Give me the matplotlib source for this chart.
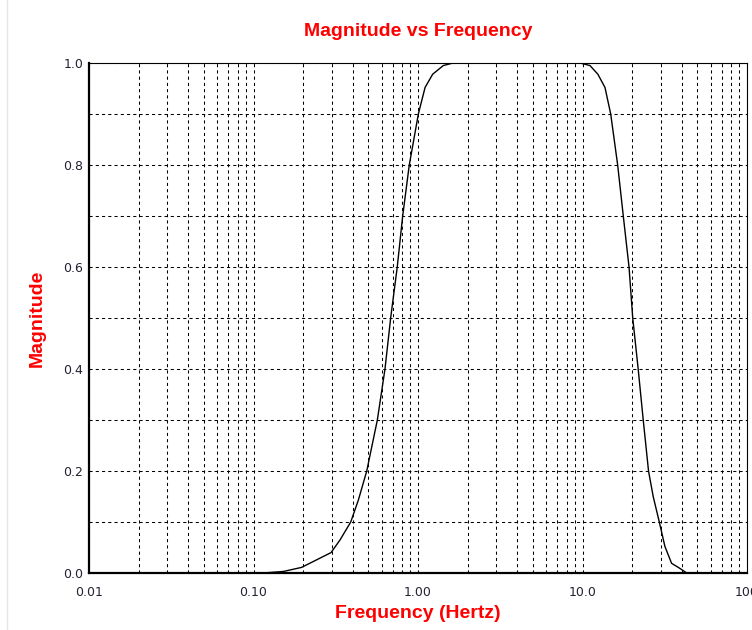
import numpy as np
import matplotlib.pyplot as plt
from matplotlib.ticker import FixedLocator, FixedFormatter, NullFormatter

# values
freq_hz = [0.01, 0.095, 0.114, 0.152, 0.196, 0.296, 0.336, 0.390, 0.434, 0.488,
           0.566, 0.630, 0.682, 0.748, 0.807, 0.885, 1.005, 1.104, 1.228,
           1.425, 1.632,
           9.66, 11.1, 12.4, 13.7, 14.84, 16.36, 17.70, 19.18, 20.2, 21.8,
           23.4, 25.2, 26.9, 29.3, 31.7, 34.8, 39.1, 43.0, 100.0]
magnitude = [0.0, 0.0, 0.0, 0.003, 0.011, 0.040, 0.065, 0.10, 0.143, 0.20,
             0.30, 0.40, 0.50, 0.60, 0.70, 0.80, 0.90, 0.952, 0.978,
             0.995, 1.0,
             1.0, 0.995, 0.978, 0.952, 0.90, 0.80, 0.70, 0.60, 0.50, 0.40,
             0.30, 0.20, 0.15, 0.10, 0.052, 0.019, 0.009, 0.0, 0.0]

x_ticks = [0.01, 0.1, 1.0, 10.0, 100.0]
x_tick_labels = ["0.01", "0.10", "1.00", "10.0", "100"]
y_ticks = [0.0, 0.2, 0.4, 0.6, 0.8, 1.0]
y_tick_labels = ["0.0", "0.2", "0.4", "0.6", "0.8", "1.0"]

red = "#ff0000"
dash = (0, (3, 3))

fig = plt.figure(figsize=(7.52, 6.30), dpi=100)
ax = fig.add_axes([89 / 752, 1 - 573 / 630, 658 / 752, 510 / 630])

ax.plot(freq_hz, magnitude, color="black", lw=1.0, zorder=3)

ax.set_xscale("log")
ax.set_xlim(0.01, 100)
ax.set_ylim(0, 1)

ax.xaxis.set_major_locator(FixedLocator(x_ticks))
ax.xaxis.set_major_formatter(FixedFormatter(x_tick_labels))
minor_x = [m * d for d in [0.01, 0.1, 1, 10] for m in range(2, 10)]
ax.xaxis.set_minor_locator(FixedLocator(minor_x))
ax.xaxis.set_minor_formatter(NullFormatter())
ax.yaxis.set_major_locator(FixedLocator(y_ticks))
ax.yaxis.set_major_formatter(FixedFormatter(y_tick_labels))
ax.yaxis.set_minor_locator(FixedLocator([0.1, 0.3, 0.5, 0.7, 0.9]))

ax.grid(True, which="both", color="black", lw=0.75, linestyle=dash)
ax.tick_params(which="both", length=0, labelsize=9, colors="#222233")
ax.tick_params(axis="x", pad=9)
ax.tick_params(axis="y", pad=4)

for side in ["top", "right"]:
    ax.spines[side].set_linewidth(0.8)
for side in ["left", "bottom"]:
    ax.spines[side].set_linewidth(1.6)

font = {"family": "Liberation Sans", "weight": "bold", "color": red, "fontsize": 14}
fig.text(418 / 752, 1 - 31 / 630, "Magnitude vs Frequency", ha="center", va="center", **font)
fig.text(418 / 752, 1 - 613 / 630, "Frequency (Hertz)", ha="center", va="center", **font)
fig.text(37 / 752, 1 - 318 / 630, "Magnitude", ha="center", va="center", rotation=90, **font)

fig.add_artist(plt.Line2D([7 / 752, 7 / 752], [0, 1], color="#e6e6e6", lw=1))

fig.savefig("out.png", dpi=100)
